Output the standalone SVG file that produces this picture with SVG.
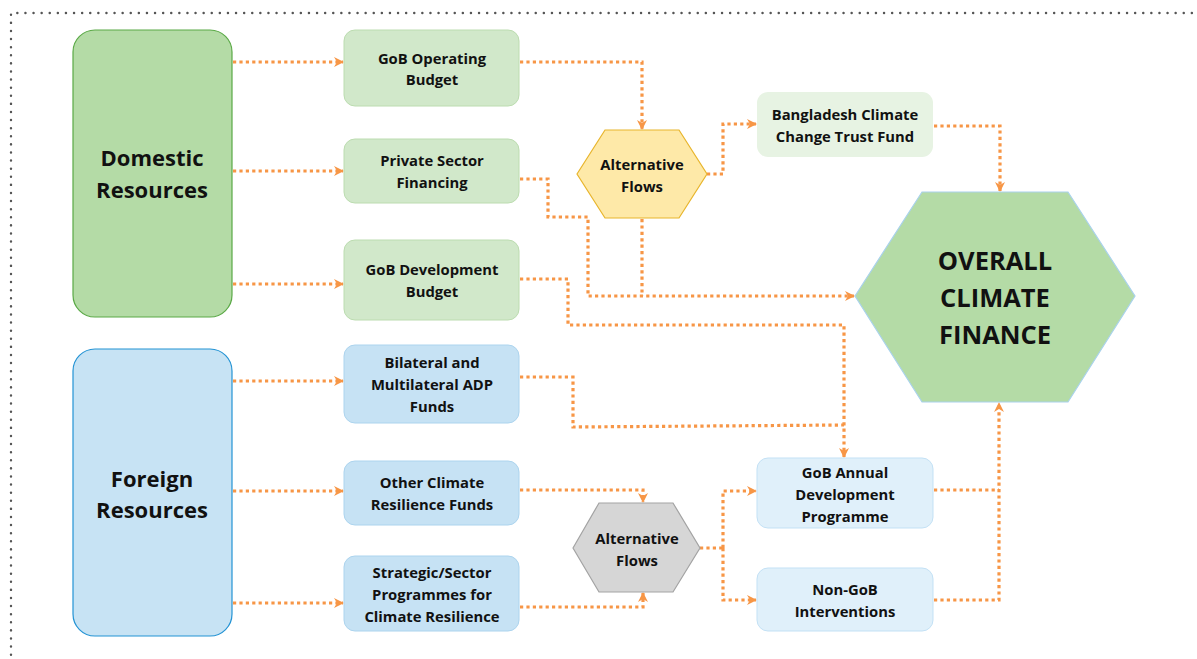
<svg xmlns="http://www.w3.org/2000/svg" width="1197" height="659" viewBox="0 0 1197 659">
  <defs>
    <marker id="arrow" viewBox="0 0 10 10" refX="9" refY="5" markerWidth="10" markerHeight="10" markerUnits="userSpaceOnUse" orient="auto">
      <path d="M0,0 L10,5 L0,10 L3,5 z" fill="#f79646"/>
    </marker>
    <style>
      text { font-family: "Open Sans", "Liberation Sans", sans-serif; font-weight: 700; fill: #111; text-anchor: middle; }
      .lbl { font-size: 14.8px; }
      .big { font-size: 22px; }
      .huge { font-size: 25.5px; }
      .flow { fill: none; stroke: #f79646; stroke-width: 3.2; stroke-dasharray: 3.2 3.2; }
      .arr { marker-end: url(#arrow); }
      .frame { fill: none; stroke: #555; stroke-width: 2.4; stroke-dasharray: 0.1 8; stroke-linecap: round; }
      .dom { fill: #b4dba6; stroke: #5aa946; stroke-width: 1.2; }
      .for { fill: #c7e3f4; stroke: #2393d4; stroke-width: 1.2; }
      .gbox { fill: #d1e8ca; stroke: #bcdcb0; stroke-width: 1; }
      .bbox { fill: #c6e2f4; stroke: #acd4ee; stroke-width: 1; }
      .lbox { fill: #e0f0fa; stroke: #c3e1f5; stroke-width: 1; }
      .pale { fill: #e7f3e3; stroke: none; }
    </style>
  </defs>

  <!-- outer dotted frame -->
  <path class="frame" d="M1200,13 L11,13 L11,662"/>

  <!-- connectors -->
  <g id="connectors">
    <path class="flow arr" d="M233,62 L343,62"/>
    <path class="flow arr" d="M233,171 L343,171"/>
    <path class="flow arr" d="M233,284 L343,284"/>
    <path class="flow arr" d="M233,381 L343,381"/>
    <path class="flow arr" d="M233,491 L343,491"/>
    <path class="flow arr" d="M233,603 L343,603"/>

    <path class="flow arr" d="M520,62 L642,62 L642,129"/>
    <path class="flow arr" d="M707,174 L723,174 L723,124 L756,124"/>
    <path class="flow arr" d="M934,126 L1000,126 L1000,191"/>
    <path class="flow arr" d="M520,179 L548,179 L548,217 L588,217 L588,296 L854,296"/>
    <path class="flow" d="M642,219 L642,296"/>
    <path class="flow arr" d="M520,279 L568,279 L568,325 L844,325 L844,457"/>
    <path class="flow" d="M520,377 L573,377 L573,427 L844,425"/>

    <path class="flow arr" d="M520,490 L643,490 L643,502"/>
    <path class="flow arr" d="M520,607 L643,607 L643,593"/>
    <path class="flow" d="M700,548 L723,548"/>
    <path class="flow arr" d="M723,548 L723,491 L756,491"/>
    <path class="flow arr" d="M723,548 L723,600 L756,600"/>

    <path class="flow" d="M934,490 L999,490"/>
    <path class="flow arr" d="M934,600 L999,600 L999,403"/>
  </g>

  <!-- sources -->
  <g id="domestic">
    <rect class="dom" x="73" y="30" width="159" height="287" rx="22"/>
    <text class="big" x="152" y="166">Domestic</text>
    <text class="big" x="152" y="198">Resources</text>
  </g>
  <g id="foreign">
    <rect class="for" x="73" y="349" width="159" height="287" rx="22"/>
    <text class="big" x="152" y="487">Foreign</text>
    <text class="big" x="152" y="518">Resources</text>
  </g>

  <!-- domestic channels -->
  <g id="gob-operating">
    <rect class="gbox" x="344" y="30" width="175" height="76" rx="11"/>
    <text class="lbl" x="432" y="64">GoB Operating</text>
    <text class="lbl" x="432" y="85">Budget</text>
  </g>
  <g id="private-sector">
    <rect class="gbox" x="344" y="139" width="175" height="64" rx="11"/>
    <text class="lbl" x="432" y="166">Private Sector</text>
    <text class="lbl" x="432" y="188">Financing</text>
  </g>
  <g id="gob-development">
    <rect class="gbox" x="344" y="240" width="175" height="80" rx="11"/>
    <text class="lbl" x="432" y="275">GoB Development</text>
    <text class="lbl" x="432" y="297">Budget</text>
  </g>

  <!-- foreign channels -->
  <g id="bilateral">
    <rect class="bbox" x="344" y="345" width="175" height="78" rx="11"/>
    <text class="lbl" x="432" y="368">Bilateral and</text>
    <text class="lbl" x="432" y="390">Multilateral ADP</text>
    <text class="lbl" x="432" y="412">Funds</text>
  </g>
  <g id="other-funds">
    <rect class="bbox" x="344" y="461" width="175" height="64" rx="11"/>
    <text class="lbl" x="432" y="488">Other Climate</text>
    <text class="lbl" x="432" y="510">Resilience Funds</text>
  </g>
  <g id="strategic">
    <rect class="bbox" x="344" y="556" width="175" height="75" rx="11"/>
    <text class="lbl" x="432" y="578">Strategic/Sector</text>
    <text class="lbl" x="432" y="600">Programmes for</text>
    <text class="lbl" x="432" y="622">Climate Resilience</text>
  </g>

  <!-- routing hubs -->
  <g id="alt-flows-domestic">
    <polygon points="577,174 605,130 679,130 707,174 679,218 605,218" fill="#fee9a8" stroke="#e8b52c" stroke-width="1.2"/>
    <text class="lbl" x="642" y="170">Alternative</text>
    <text class="lbl" x="642" y="192">Flows</text>
  </g>
  <g id="alt-flows-foreign">
    <polygon points="573,548 599,503 673,503 700,548 673,592 599,592" fill="#d6d6d6" stroke="#a3a3a3" stroke-width="1.2"/>
    <text class="lbl" x="637" y="544">Alternative</text>
    <text class="lbl" x="637" y="566">Flows</text>
  </g>

  <!-- destinations -->
  <g id="bcctf">
    <rect class="pale" x="757" y="92" width="176" height="65" rx="11"/>
    <text class="lbl" x="845" y="120">Bangladesh Climate</text>
    <text class="lbl" x="845" y="142">Change Trust Fund</text>
  </g>
  <g id="gob-adp">
    <rect class="lbox" x="757" y="458" width="176" height="70" rx="11"/>
    <text class="lbl" x="845" y="478">GoB Annual</text>
    <text class="lbl" x="845" y="500">Development</text>
    <text class="lbl" x="845" y="522">Programme</text>
  </g>
  <g id="non-gob">
    <rect class="lbox" x="757" y="568" width="176" height="63" rx="11"/>
    <text class="lbl" x="845" y="595">Non-GoB</text>
    <text class="lbl" x="845" y="617">Interventions</text>
  </g>

  <g id="overall">
    <polygon points="855,296 922,192 1068,192 1135,296 1068,402 922,402" fill="#b4dba6" stroke="#a9d2ec" stroke-width="1.2"/>
    <text class="huge" x="995" y="270">OVERALL</text>
    <text class="huge" x="995" y="307">CLIMATE</text>
    <text class="huge" x="995" y="344">FINANCE</text>
  </g>
</svg>
